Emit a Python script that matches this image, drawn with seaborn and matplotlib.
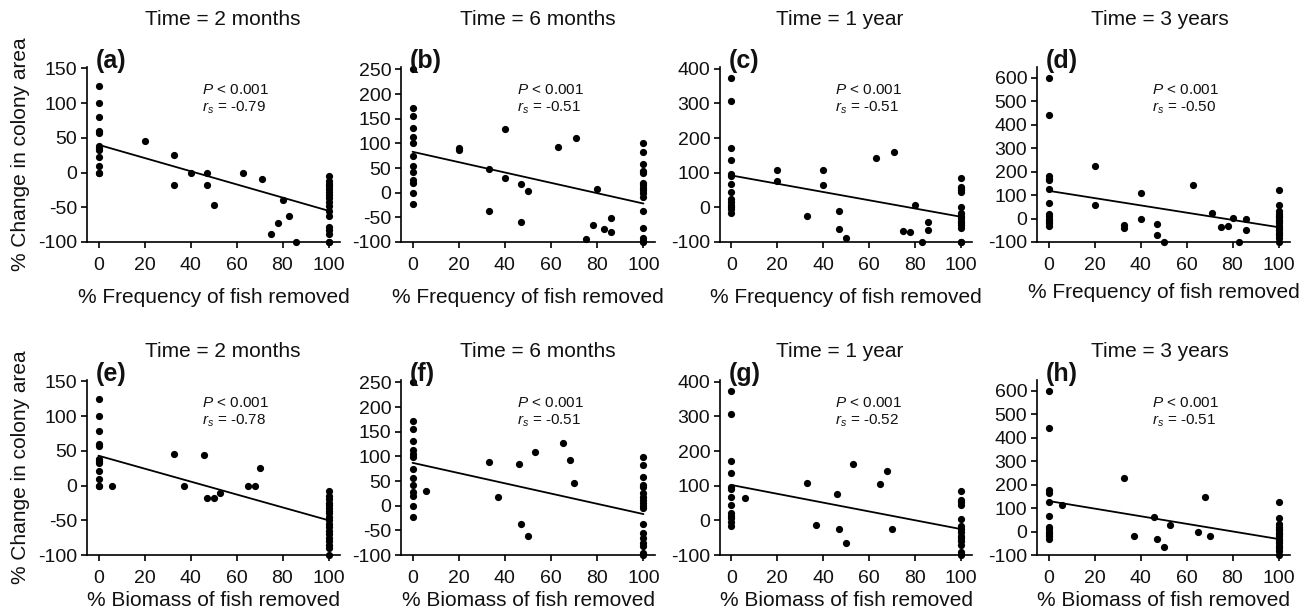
import numpy as np
import pandas as pd
import matplotlib
matplotlib.use("Agg")
import matplotlib.pyplot as plt
import seaborn as sns

# ---------------- data ----------------
titles = ["Time = 2 months", "Time = 6 months", "Time = 1 year", "Time = 3 years"]
xlabels = ["% Frequency of fish removed", "% Biomass of fish removed"]
ylabel = "% Change in colony area"
panel_letters = ["(a)", "(b)", "(c)", "(d)", "(e)", "(f)", "(g)", "(h)"]
rs_text = ["-0.79", "-0.51", "-0.51", "-0.50", "-0.78", "-0.51", "-0.52", "-0.51"]
x_ticks = [0, 20, 40, 60, 80, 100]
y_ticks_by_col = [
    [-100, -50, 0, 50, 100, 150],
    [-100, -50, 0, 50, 100, 150, 200, 250],
    [-100, 0, 100, 200, 300, 400],
    [-100, 0, 100, 200, 300, 400, 500, 600],
]
y_top_by_col = [152, 255, 405, 645]

# fitted-line values at x = 0 and x = 100
fit_x = [0, 100]
line_at0 = [40, 83, 92, 118, 43, 87, 102, 130]
line_at100 = [-55, -22, -27, -37, -50, -17, -25, -32]

# panel (a)
a_zero = [125, 100, 80, 60, 57, 38, 35, 33, 22, 10, 0, 0]
a_mid_x = [20, 33, 33, 40, 47, 47, 50, 63, 71, 80, 78, 83, 75, 86]
a_mid_y = [45, 25, -18, 0, -1, -18, -47, 0, -10, -40, -72, -63, -88, -100]
a_full = [-5, -12, -17, -20, -24, -28, -32, -37, -42, -48, -55, -63, -78, -83, -88, -100, -100]

# panel (b)
b_zero = [250, 171, 156, 131, 112, 101, 75, 55, 43, 25, 19, 0, -22]
b_mid_x = [20, 20, 33, 33, 40, 40, 47, 47, 50, 63, 71, 80, 75, 78, 83, 86, 86]
b_mid_y = [86, 90, 48, -37, 129, 30, 17, -60, 3, 93, 110, 8, -94, -66, -73, -52, -80]
b_full = [100, 83, 59, 45, 40, 20, 15, 10, 5, 0, -8, -37, -72, -92, -98, -100]

# panel (c)
c_zero = [374, 308, 171, 136, 97, 90, 67, 43, 24, 14, 8, 0, -5, -16]
c_mid_x = [20, 20, 33, 40, 40, 47, 47, 50, 63, 71, 80, 75, 78, 83, 86, 86]
c_mid_y = [107, 76, -24, 107, 64, -11, -63, -89, 141, 160, 8, -68, -70, -100, -41, -66]
c_full = [85, 60, 55, 50, 45, 0, -15, -25, -30, -38, -45, -52, -60, -100, -100]

# panel (d)
d_zero = [600, 440, 180, 170, 165, 125, 65, 20, 10, 0, -10, -20, -30]
d_mid_x = [20, 20, 33, 33, 40, 40, 47, 47, 50, 63, 71, 75, 78, 80, 83, 86, 86]
d_mid_y = [224, 57, -26, -40, 110, -4, -24, -69, -100, 143, 24, -37, -34, 4, -100, -1, -47]
d_full = [122, 58, 30, 20, 12, 5, -5, -12, -20, -30, -40, -50, -60, -70, -85, -100]

# panel (e)
e_zero = [125, 100, 79, 60, 57, 38, 35, 33, 21, 10, 0, 0]
e_mid_x = [6, 33, 37, 46, 47, 50, 53, 65, 68, 70]
e_mid_y = [0, 45, -1, 44, -18, -18, -11, 0, 0, 25]
e_full = [-8, -15, -20, -25, -28, -32, -36, -40, -45, -50, -55, -60, -65, -70, -75, -80, -85, -90, -100]

# panel (f)
f_zero = [250, 171, 155, 131, 113, 105, 99, 74, 56, 42, 27, 19, 0, -23]
f_mid_x = [6, 33, 37, 46, 47, 50, 53, 65, 68, 70]
f_mid_y = [29, 88, 17, 85, -38, -62, 109, 128, 92, 47]
f_full = [98, 82, 58, 42, 37, 25, 18, 11, 5, 0, -5, -38, -55, -65, -75, -82, -95, -100]

# panel (g)
g_zero = [374, 308, 171, 136, 97, 90, 66, 43, 20, 13, 6, -4, -16]
g_mid_x = [6, 33, 37, 46, 47, 50, 53, 65, 68, 70]
g_mid_y = [65, 107, -12, 76, -25, -64, 162, 105, 142, -25]
g_full = [85, 60, 52, 45, 5, -15, -25, -35, -45, -52, -60, -70, -90, -100]

# panel (h)
h_zero = [600, 440, 177, 166, 125, 65, 20, 10, 0, -10, -20, -30]
h_mid_x = [6, 33, 37, 46, 47, 50, 53, 65, 68, 70]
h_mid_y = [113, 226, -21, 60, -34, -64, 27, 0, 146, -21]
h_full = [125, 58, 30, 20, 12, 5, -5, -12, -20, -30, -40, -50, -60, -70, -85, -100]

panels = [
    (a_zero, a_mid_x, a_mid_y, a_full),
    (b_zero, b_mid_x, b_mid_y, b_full),
    (c_zero, c_mid_x, c_mid_y, c_full),
    (d_zero, d_mid_x, d_mid_y, d_full),
    (e_zero, e_mid_x, e_mid_y, e_full),
    (f_zero, f_mid_x, f_mid_y, f_full),
    (g_zero, g_mid_x, g_mid_y, g_full),
    (h_zero, h_mid_x, h_mid_y, h_full),
]

# ---------------- style ----------------
sns.set_theme(style="ticks")
plt.rcParams["font.family"] = ["Liberation Sans", "DejaVu Sans"]
plt.rcParams["mathtext.fontset"] = "custom"
plt.rcParams["mathtext.it"] = "Liberation Sans:italic"
plt.rcParams["mathtext.rm"] = "Liberation Sans"
plt.rcParams["axes.unicode_minus"] = False

W, H = 1315, 614
fig = plt.figure(figsize=(W / 100, H / 100), dpi=100)

lefts = [87, 401, 720, 1037]
rights = [340, 655, 972, 1290]
tops = [67, 380]
bottoms = [242, 555]
title_x = [0.5375, 0.539, 0.476, 0.486]
title_y = [1.27, 1.165]
xlabel_pad = [[10, 10, 10, 6], [2.5, 2.5, 2.5, 2.5]]

for i, (zero, mid_x, mid_y, full) in enumerate(panels):
    r, c = divmod(i, 4)
    l, rr, t, b = lefts[c], rights[c], tops[r], bottoms[r]
    ax = fig.add_axes([l / W, 1 - b / H, (rr - l) / W, (b - t) / H])

    xs = [0] * len(zero) + list(mid_x) + [100] * len(full)
    ys = list(zero) + list(mid_y) + list(full)
    df = pd.DataFrame({"x": xs, "y": ys})

    sns.scatterplot(data=df, x="x", y="y", ax=ax, color="black", s=27,
                    linewidth=0, clip_on=False, zorder=3)
    sns.lineplot(x=fit_x, y=[line_at0[i], line_at100[i]], ax=ax,
                 color="black", linewidth=1.3, zorder=2)

    ax.set_xlim(-5, 105)
    ax.set_ylim(-100, y_top_by_col[c])
    ax.set_xticks(x_ticks)
    ax.set_yticks(y_ticks_by_col[c])
    sns.despine(ax=ax)
    for s in ["left", "bottom"]:
        ax.spines[s].set_linewidth(1.2)
        ax.spines[s].set_color("black")
    ax.tick_params(axis="both", labelsize=14, length=4, width=1.2,
                   color="black", labelcolor="#111111")
    ax.tick_params(axis="x", pad=7)
    ax.tick_params(axis="y", pad=3)

    ax.set_xlabel(xlabels[r], fontsize=15, labelpad=xlabel_pad[r][c],
                  color="#111111")
    if c == 0:
        ax.set_ylabel(ylabel, fontsize=15, labelpad=6, color="#111111")
    else:
        ax.set_ylabel("")

    ax.text(title_x[c], title_y[r], titles[c], transform=ax.transAxes,
            ha="center", va="center", fontsize=15, color="#111111")
    ax.text(0.035, 0.995, panel_letters[i], transform=ax.transAxes,
            ha="left", va="baseline", fontsize=18, fontweight="bold",
            color="#111111")
    ax.text(0.455, 0.87, "$P$ < 0.001", transform=ax.transAxes,
            ha="left", va="center", fontsize=11, color="#111111")
    ax.text(0.455, 0.765, "$r_s$ = " + rs_text[i], transform=ax.transAxes,
            ha="left", va="center", fontsize=11, color="#111111")

fig.savefig("out.png", dpi=100, facecolor="white")
